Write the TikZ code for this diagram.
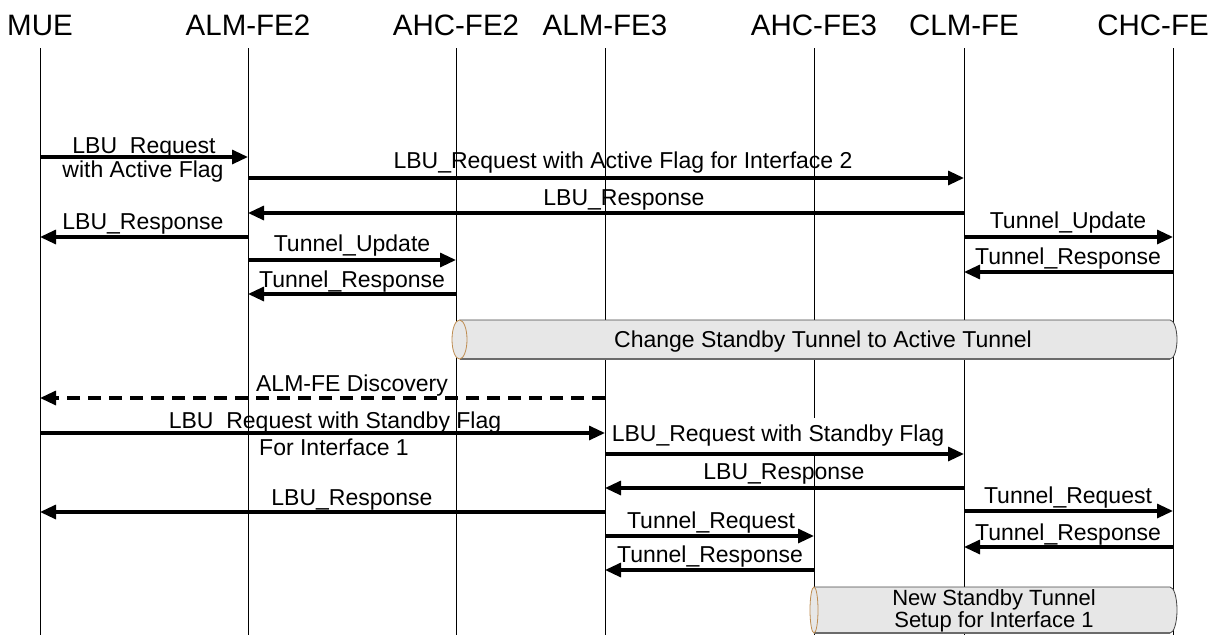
\documentclass[tikz,border=0pt]{standalone}
\usepackage{fontspec}
\setmainfont{Liberation Sans}
\usetikzlibrary{arrows.meta}
\definecolor{cylgray}{RGB}{231,231,231}
\definecolor{cyledge}{RGB}{70,70,70}
\definecolor{cyltan}{RGB}{190,140,80}
\begin{document}
\begin{tikzpicture}[x=1pt,y=-1pt,
  hdr/.style={font=\fontsize{29.5}{31}\selectfont, inner sep=0pt, anchor=base},
  lbl/.style={font=\fontsize{23}{25}\selectfont, inner sep=0pt, anchor=base},
  cyllbl/.style={font=\fontsize{22}{23}\selectfont, inner sep=0pt, anchor=base},
  life/.style={line width=0.8pt, black},
  msg/.style={line width=3.2pt, -{Triangle[length=16pt,width=14pt]}},
  dmsg/.style={msg, dash pattern=on 13pt off 8pt},
  cylbody/.style={fill=cylgray},
  cyledgeline/.style={draw=cyledge, line width=0.8pt},
  cylshadow/.style={draw=cyledge!80, line width=1.6pt},
  cylend/.style={draw=cyltan, fill=cylgray, line width=0.8pt},
  whitebox/.style={lbl, fill=white, inner xsep=3pt, inner ysep=6pt}
]
\useasboundingbox (0,0) rectangle (1213,635);

% lifelines
\foreach \n/\x in {mue/40, alm2/248, ahc2/456, alm3/605, ahc3/814, clm/964, chc/1173}{
  \coordinate (\n) at (\x,48);
  \draw[life] (\n) -- (\n |- 0,635);
}

% headers
\node[hdr] (hmue)  at (40,35)   {MUE};
\node[hdr] (halm2) at (248,35)  {ALM-FE2};
\node[hdr] (hahc2) at (456,35)  {AHC-FE2};
\node[hdr] (halm3) at (605,35)  {ALM-FE3};
\node[hdr] (hahc3) at (814,35)  {AHC-FE3};
\node[hdr] (hclm)  at (964,35)  {CLM-FE};
\node[hdr] (hchc)  at (1153,35) {CHC-FE};

% cylinder 1
\path[cylbody] (459.5,320) -- (1170,320) arc[start angle=90,end angle=-90,x radius=7pt,y radius=19.5pt] -- (459.5,359) -- cycle;
\draw[cyledgeline] (459.5,320) -- (1170,320) arc[start angle=90,end angle=-90,x radius=7pt,y radius=19.5pt];
\draw[cylshadow] (459.5,359) -- (1170,359);
\draw[cylend] (459.5,339.5) ellipse[x radius=7.5pt, y radius=19.5pt];
\node[lbl] (c1t) at (823,347.5) {Change Standby Tunnel to Active Tunnel};

% cylinder 2
\path[cylbody] (814,587) -- (1170,587) arc[start angle=90,end angle=-90,x radius=7pt,y radius=23pt] -- (814,633) -- cycle;
\draw[cyledgeline] (814,587) -- (1170,587) arc[start angle=90,end angle=-90,x radius=7pt,y radius=23pt];
\draw[cylshadow] (814,633) -- (1170,633);
\draw[cylend] (814,610) ellipse[x radius=4pt, y radius=23pt];
\node[cyllbl] (c2a) at (994,605.5) {New Standby Tunnel};
\node[cyllbl] (c2b) at (994,627.5) {Setup for Interface 1};

% labels
\node[lbl] (t1a) at (144,153) {LBU\_Request};
\node[lbl] (t1b) at (143,177) {with Active Flag};
\node[lbl] (t2)  at (623,168) {LBU\_Request with Active Flag for Interface 2};
\node[lbl] (t3)  at (624,205) {LBU\_Response};
\node[lbl] (t4)  at (143,229) {LBU\_Response};
\node[lbl] (t5)  at (1068,228) {Tunnel\_Update};
\node[lbl] (t6)  at (352,251) {Tunnel\_Update};
\node[lbl] (t7)  at (1068,264) {Tunnel\_Response};
\node[lbl] (t8)  at (352,287) {Tunnel\_Response};
\node[lbl] (t10) at (352,391) {ALM-FE Discovery};
\node[lbl] (t11a) at (335,428) {LBU\_Request with Standby Flag};
\node[lbl] (t11b) at (334,455) {For Interface 1};
\node[whitebox] (t12) at (778,441) {LBU\_Request with Standby Flag};
\node[lbl] (t13) at (784,479) {LBU\_Response};
\node[lbl] (t14) at (352,505) {LBU\_Response};
\node[lbl] (t15) at (1068,503) {Tunnel\_Request};
\node[lbl] (t16) at (711,528) {Tunnel\_Request};
\node[lbl] (t17) at (1068,540) {Tunnel\_Response};
\node[lbl] (t18) at (710,562) {Tunnel\_Response};

% messages
\draw[msg] (mue  |- 0,157) -- (alm2 |- 0,157);
\draw[msg] (alm2 |- 0,178) -- (clm  |- 0,178);
\draw[msg] (clm  |- 0,213) -- (alm2 |- 0,213);
\draw[msg] (alm2 |- 0,237) -- (mue  |- 0,237);
\draw[msg] (clm  |- 0,237) -- (chc  |- 0,237);
\draw[msg] (alm2 |- 0,260) -- (ahc2 |- 0,260);
\draw[msg] (chc  |- 0,272) -- (clm  |- 0,272);
\draw[msg] (ahc2 |- 0,294) -- (alm2 |- 0,294);
\draw[dmsg] (alm3 |- 0,398) -- (mue |- 0,398);
\draw[msg] (mue  |- 0,433) -- (alm3 |- 0,433);
\draw[msg] (alm3 |- 0,454) -- (clm  |- 0,454);
\draw[msg] (clm  |- 0,488) -- (alm3 |- 0,488);
\draw[msg] (alm3 |- 0,512) -- (mue  |- 0,512);
\draw[msg] (clm  |- 0,511) -- (chc  |- 0,511);
\draw[msg] (alm3 |- 0,536) -- (ahc3 |- 0,536);
\draw[msg] (chc  |- 0,547) -- (clm  |- 0,547);
\draw[msg] (ahc3 |- 0,570) -- (alm3 |- 0,570);
\end{tikzpicture}
\end{document}
